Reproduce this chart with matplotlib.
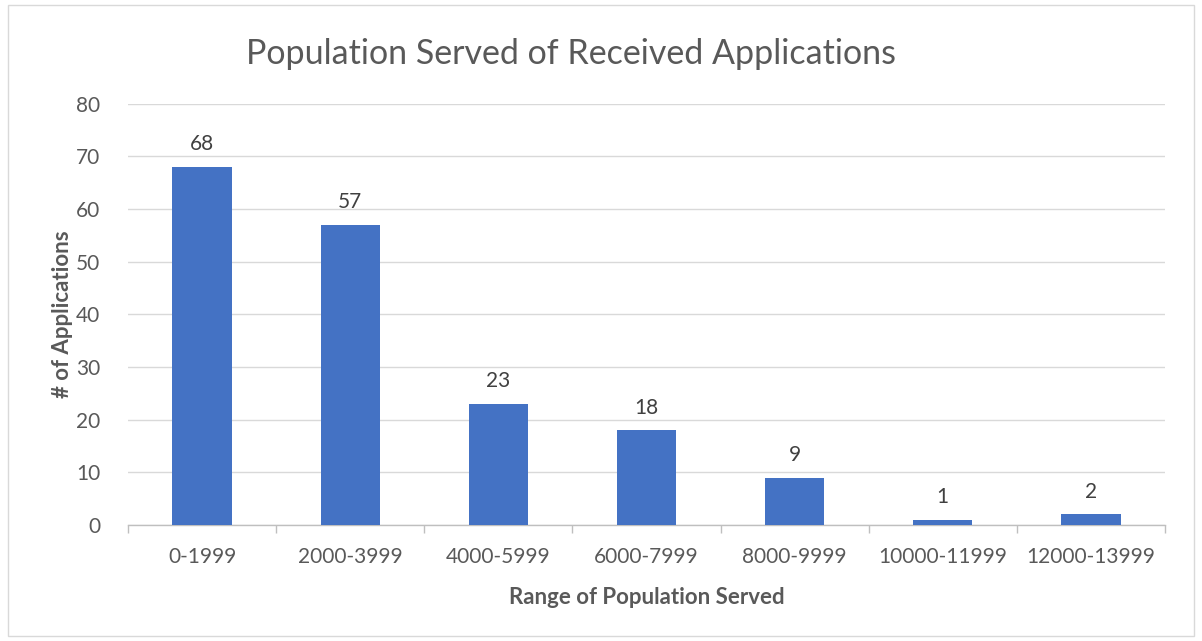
import numpy as np
import matplotlib.pyplot as plt
from matplotlib.patches import Rectangle

categories = ["0-1999", "2000-3999", "4000-5999", "6000-7999",
              "8000-9999", "10000-11999", "12000-13999"]
applications = [68, 57, 23, 18, 9, 1, 2]

plt.rcParams['font.family'] = ['Lato', 'DejaVu Sans']
text_color = "#595959"

fig = plt.figure(figsize=(12.02, 6.41), dpi=100)
ax = fig.add_axes([0.1065, 0.181, 0.8627, 0.657])

x = np.arange(len(categories))
bars = ax.bar(x, applications, width=0.4, color="#4472c4", zorder=3)

for xi, v in zip(x, applications):
    ax.text(xi, v + 2.4, str(v), ha="center", va="bottom", fontsize=15, color="#404040")

ax.set_xlim(-0.5, len(categories) - 0.5)
ax.set_ylim(0, 80)
ax.set_yticks(range(0, 81, 10))
ax.yaxis.grid(True, color="#d9d9d9", linewidth=1, zorder=0)
ax.set_xticks(x)
ax.set_xticklabels(categories)
ax.set_xticks(np.arange(-0.5, len(categories)), minor=True)
ax.tick_params(axis="x", which="major", length=0, pad=16, labelsize=15, labelcolor=text_color)
ax.tick_params(axis="x", which="minor", length=6, color="#bfbfbf", width=1)
ax.tick_params(axis="y", length=0, pad=20, labelsize=15, labelcolor=text_color)

for s in ["top", "right", "left"]:
    ax.spines[s].set_visible(False)
ax.spines["bottom"].set_color("#bfbfbf")
ax.spines["bottom"].set_linewidth(1)

ax.set_xlabel("Range of Population Served", fontsize=16, fontweight="bold",
              color=text_color, labelpad=14)
ax.set_ylabel("# of Applications", fontsize=16, fontweight="bold",
              color=text_color, labelpad=2)

fig.text(0.475, 0.916, "Population Served of Received Applications",
         ha="center", va="center", fontsize=24.5, color=text_color)

fig.patches.append(Rectangle((0.007, 0.008), 0.986, 0.984, transform=fig.transFigure,
                             fill=False, edgecolor="#d9d9d9", linewidth=1))

fig.savefig("out.png", dpi=100)
